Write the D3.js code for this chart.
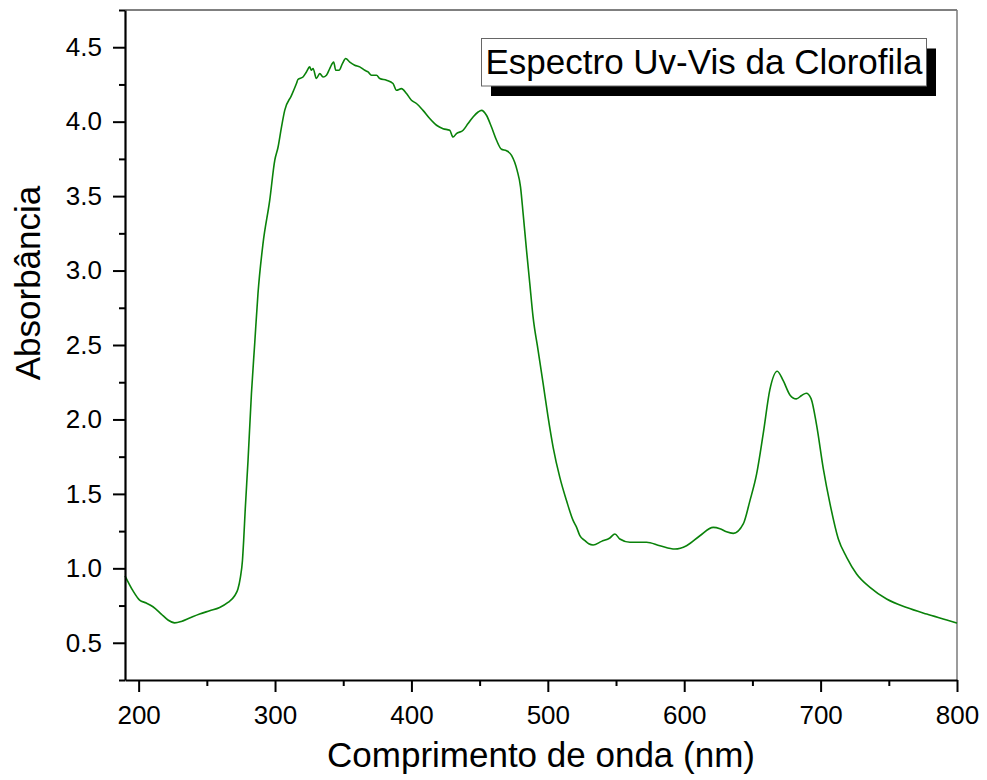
<!DOCTYPE html>
<html>
<head>
<meta charset="utf-8">
<script src="https://cdn.jsdelivr.net/npm/d3@7"></script>
<style>
  html, body { margin: 0; padding: 0; background: #fff; }
  svg { display: block; font-family: "Liberation Sans", Arial, sans-serif; }
</style>
</head>
<body>
<svg id="chart" width="987" height="780"></svg>
<script>
// ---- data ----
const wavelength = [
  190, 195.8, 200.7, 205.6, 210.5, 216.6, 221.5, 226.4, 231.3, 237.4,
  244.7, 252.1, 259.4, 265.5, 270.4, 272.8, 274.6, 276.1, 277.0, 278.1,
  280.2, 282.7, 285.1, 287.5, 291.2, 296.1, 299.8, 302.2, 304.7, 307.1,
  312.0, 315.7, 316.8, 320.5, 323.0, 325.4, 326.6, 327.9, 330.3, 332.8,
  335.2, 337.7, 340.1, 343.0, 344.5, 346.9, 349.4, 351.8, 354.8, 358.4,
  362.1, 365.8, 368.2, 370.7, 374.4, 376.8, 381.7, 386.5, 389.0, 392.7,
  396.4, 400.0, 403.7, 408.5, 413.4, 418.4, 423.2, 428.1, 430.5, 433.0,
  437.9, 441.5, 445.2, 448.9, 451.4, 455.0, 458.7, 462.4, 466.0, 469.7,
  473.4, 477.5, 480.0, 481.9, 484.4, 486.8, 489.2, 492.9, 496.6, 500.2,
  503.9, 508.8, 513.7, 518.6, 521.1, 523.5, 527.2, 530.0, 533.2, 539.4,
  545.5, 549.2, 552.8, 560.2, 572.4, 582.2, 593.2, 601.7, 611.5, 621.3,
  626.2, 631.0, 636.0, 643.3, 648.2, 653.1, 657.9, 662.8, 668.2, 672.6,
  677.5, 682.2, 686.1, 689.5, 693.0, 697.1, 702.0, 706.9, 713.0, 719.1,
  726.4, 736.2, 748.4, 763.1, 777.8, 792.5, 800
];
const absorbance = [
  0.95, 0.85, 0.787, 0.767, 0.742, 0.693, 0.653, 0.634, 0.643, 0.666,
  0.693, 0.715, 0.737, 0.771, 0.816, 0.861, 0.939, 1.051, 1.186, 1.387,
  1.724, 2.174, 2.51, 2.846, 3.182, 3.471, 3.74, 3.828, 3.962, 4.076,
  4.175, 4.256, 4.283, 4.30, 4.334, 4.368, 4.345, 4.357, 4.29, 4.323,
  4.30, 4.312, 4.357, 4.40, 4.345, 4.345, 4.39, 4.424, 4.40, 4.379,
  4.368, 4.345, 4.334, 4.312, 4.312, 4.29, 4.278, 4.256, 4.211, 4.222,
  4.189, 4.144, 4.122, 4.076, 4.021, 3.976, 3.953, 3.942, 3.897, 3.92,
  3.942, 3.987, 4.031, 4.065, 4.076, 4.043, 3.964, 3.875, 3.815, 3.805,
  3.774, 3.673, 3.561, 3.382, 3.135, 2.911, 2.687, 2.463, 2.239, 2.015,
  1.813, 1.611, 1.455, 1.32, 1.275, 1.219, 1.186, 1.165, 1.157, 1.181,
  1.204, 1.231, 1.197, 1.175, 1.175, 1.152, 1.13, 1.152, 1.219, 1.275,
  1.266, 1.245, 1.235, 1.298, 1.455, 1.634, 1.903, 2.2, 2.324, 2.26,
  2.165, 2.138, 2.161, 2.176, 2.14, 1.96, 1.668, 1.433, 1.197, 1.074,
  0.962, 0.872, 0.794, 0.737, 0.693, 0.653, 0.632
];
const xMajorTicks = [200, 300, 400, 500, 600, 700, 800];
const xMinorTicks = [250, 350, 450, 550, 650, 750];
const yMajorTicks = [0.5, 1.0, 1.5, 2.0, 2.5, 3.0, 3.5, 4.0, 4.5];
const yMinorTicks = [0.25, 0.75, 1.25, 1.75, 2.25, 2.75, 3.25, 3.75, 4.25, 4.75];
const xTitle = "Comprimento de onda (nm)";
const yTitle = "Absorbância";
const legendText = "Espectro Uv-Vis da Clorofila";

// ---- layout ----
const L = 125, R = 957, T = 10, B = 680;
const svg = d3.select("#chart");

const x = d3.scaleLinear().domain([190, 800]).range([L, R]);
const y = d3.scaleLinear().domain([0.25, 4.75]).range([B, T]);

// top & right frame lines
svg.append("line").attr("x1", L).attr("x2", R).attr("y1", T).attr("y2", T)
  .attr("stroke", "#000").attr("stroke-width", 1);
svg.append("line").attr("x1", R).attr("x2", R).attr("y1", T).attr("y2", B)
  .attr("stroke", "#7a7a7a").attr("stroke-width", 1.5);

// curve
const pts = wavelength.map((w, i) => [w, absorbance[i]]);
const line = d3.line().x(d => x(d[0])).y(d => y(d[1])).curve(d3.curveMonotoneX);
svg.append("path").datum(pts)
  .attr("d", line)
  .attr("fill", "none")
  .attr("stroke", "#0a820a")
  .attr("stroke-width", 1.6)
  .attr("stroke-linejoin", "round");

// x axis
const gxMinor = svg.append("g").attr("transform", `translate(0,${B})`)
  .call(d3.axisBottom(x).tickValues(xMinorTicks).tickSizeInner(6).tickSizeOuter(0).tickFormat(""));
gxMinor.select(".domain").remove();
gxMinor.selectAll("line").attr("stroke-width", 2);

const gx = svg.append("g").attr("transform", `translate(0,${B})`)
  .call(d3.axisBottom(x).tickValues(xMajorTicks).tickSizeInner(12).tickSizeOuter(0).tickPadding(14)
    .tickFormat(d3.format("d")));
gx.select(".domain").attr("stroke-width", 2.2);
gx.selectAll("line").attr("stroke-width", 2);
gx.selectAll("text").attr("font-size", 26).attr("fill", "#000")
  .attr("font-family", '"Liberation Sans", Arial, sans-serif');

// y axis
const gyMinor = svg.append("g").attr("transform", `translate(${L},0)`)
  .call(d3.axisLeft(y).tickValues(yMinorTicks).tickSizeInner(6).tickSizeOuter(0).tickFormat(""));
gyMinor.select(".domain").remove();
gyMinor.selectAll("line").attr("stroke-width", 2);

const gy = svg.append("g").attr("transform", `translate(${L},0)`)
  .call(d3.axisLeft(y).tickValues(yMajorTicks).tickSizeInner(12).tickSizeOuter(0).tickPadding(11)
    .tickFormat(d3.format(".1f")));
gy.select(".domain").attr("stroke-width", 2.2);
gy.selectAll("line").attr("stroke-width", 2);
gy.selectAll("text").attr("font-size", 26).attr("fill", "#000")
  .attr("font-family", '"Liberation Sans", Arial, sans-serif');

// axis titles
svg.append("text")
  .attr("x", (L + R) / 2).attr("y", 767)
  .attr("text-anchor", "middle")
  .attr("font-size", 35)
  .attr("fill", "#000")
  .text(xTitle);

svg.append("text")
  .attr("transform", "translate(40,283) rotate(-90)")
  .attr("text-anchor", "middle")
  .attr("font-size", 35)
  .attr("fill", "#000")
  .text(yTitle);

// legend box with shadow
const bx = 481.5, by = 38.5, bw = 445, bh = 47.5;
svg.append("rect").attr("x", bx + 9.5).attr("y", by + 10).attr("width", bw).attr("height", bh)
  .attr("fill", "#000");
svg.append("rect").attr("x", bx).attr("y", by).attr("width", bw).attr("height", bh)
  .attr("fill", "#fff").attr("stroke", "#666").attr("stroke-width", 1);
svg.append("text")
  .attr("x", bx + 4).attr("y", 73.5)
  .attr("font-size", 35)
  .attr("fill", "#000")
  .text(legendText);
</script>
</body>
</html>
